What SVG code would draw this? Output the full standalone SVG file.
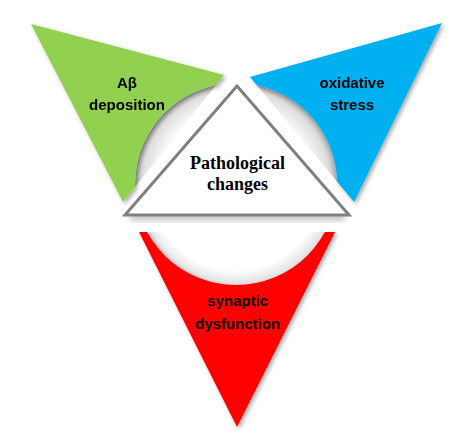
<svg xmlns="http://www.w3.org/2000/svg" width="455" height="431" viewBox="0 0 455 431">
<style>
.lbl{font-family:"Liberation Sans",Arial,sans-serif;font-weight:bold;font-size:15px;fill:#000;text-anchor:middle}
.ctr{font-family:"Liberation Serif","Times New Roman",serif;font-weight:bold;font-size:18px;fill:#000;text-anchor:middle}
.shade{fill:url(#ring);clip-path:url(#circ)}
</style>
<defs>
<radialGradient id="ring" cx="236" cy="184" r="101" gradientUnits="userSpaceOnUse">
<stop offset="0.74" stop-color="#ffffff"/>
<stop offset="0.93" stop-color="#dedede"/>
<stop offset="1" stop-color="#b0b0b0"/>
</radialGradient>
<radialGradient id="ring2" cx="236" cy="184" r="101" gradientUnits="userSpaceOnUse">
<stop offset="0.85" stop-color="#ffffff"/>
<stop offset="1" stop-color="#e0e0e0"/>
</radialGradient>
<clipPath id="circ"><circle cx="236" cy="184" r="101"/></clipPath>
<filter id="sh" x="-20%" y="-20%" width="140%" height="140%">
<feDropShadow dx="2" dy="2" stdDeviation="2" flood-color="#000" flood-opacity="0.35"/>
</filter>
<filter id="blur" x="-20%" y="-50%" width="140%" height="200%">
<feGaussianBlur stdDeviation="3"/>
</filter>
<mask id="cut">
<rect width="455" height="431" fill="#fff"/>
<circle cx="236" cy="184" r="101" fill="#000"/>
</mask>
</defs>
<rect width="455" height="431" fill="#fff"/>
<polygon class="shade" points="31,24 224,75 123,202"/>
<polygon class="shade" points="250,77 442,23 354,202"/>
<polygon points="139,232 335,232 237,427" fill="url(#ring2)" clip-path="url(#circ)"/>
<g id="amyloid" filter="url(#sh)">
<polygon points="31,24 224,75 123,202" fill="#92d050" mask="url(#cut)"/>
<text class="lbl" x="127" y="88">Aβ</text>
<text class="lbl" x="127" y="110">deposition</text>
</g>
<g id="oxidative" filter="url(#sh)">
<polygon points="250,77 442,23 354,202" fill="#00b0f0" mask="url(#cut)"/>
<text class="lbl" x="352" y="88">oxidative</text>
<text class="lbl" x="352" y="110">stress</text>
</g>
<g id="synaptic" filter="url(#sh)">
<polygon points="139,232 335,232 237,427" fill="#ff0000" mask="url(#cut)"/>
<text class="lbl" x="238" y="306">synaptic</text>
<text class="lbl" x="238" y="329">dysfunction</text>
</g>
<g id="pathological">
<rect x="130" y="214" width="215" height="6" fill="#999" filter="url(#blur)" opacity="0.7"/>
<polygon points="237,86 125,215 349,215" fill="#fff" stroke="#7f7f7f" stroke-width="3" stroke-linejoin="miter"/>
<text class="ctr" x="237.5" y="169">Pathological</text>
<text class="ctr" x="237.5" y="190">changes</text>
</g>
<g id="connectors"/>
</svg>
